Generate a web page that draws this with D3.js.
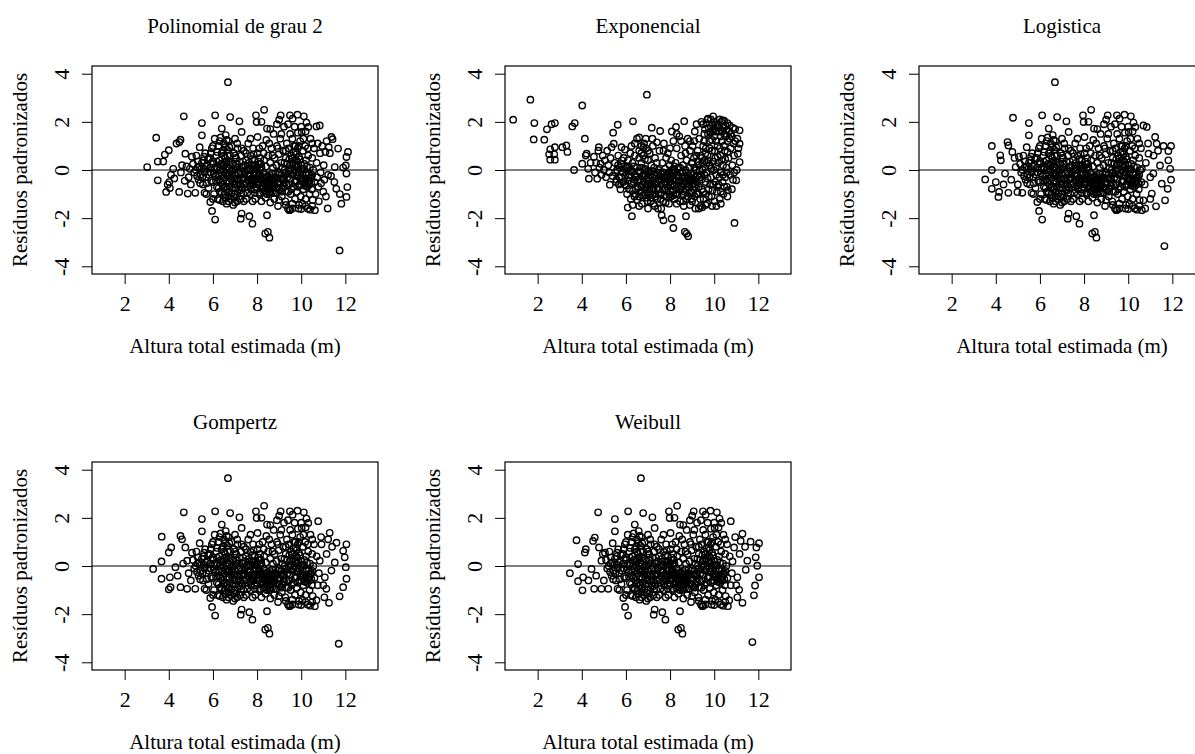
<!DOCTYPE html>
<html lang="pt">
<head>
    <meta charset="UTF-8">
    <title>Resíduos padronizados</title>
    <script src="https://d3js.org/d3.v7.min.js"></script>
    <style>
        body { margin: 0; background: #fff; overflow: hidden; }
        svg { display: block; }
        svg text { font-family: "Liberation Serif", "Times New Roman", Times, serif; }
    </style>
</head>
<body>
<script>
    // Valores (altura estimada em m, resíduo padronizado)

    // nuvem central, praticamente igual nos modelos polinomial, logístico, Gompertz e Weibull
    const nucleoComum = [
        [5.0,-0.6],[5.05,0.55],[5.1,0.25],[5.15,-0.1],[5.2,-0.95],[5.25,0.6],[5.3,0.1],[5.35,-0.4],
        [5.4,0.95],[5.45,-0.2],[5.5,1.95],[5.5,1.44],[5.5,0.3],[5.55,-0.6],[5.6,0.05],[5.62,-0.95],[5.65,0.7],
        [5.7,-0.3],[5.75,0.2],[5.8,-0.75],[5.85,0.5],[5.88,-1.33],[5.9,-0.1],[5.96,-1.7],[5.95,0.9],[6.0,-0.5],
        [6.02,0.25],[6.05,-1.0],[6.08,1.3],[6.1,-2.06],[6.1,2.27],[6.12,-0.25],[6.15,0.6],[6.18,-0.7],[6.2,0.1],
        [6.22,-1.2],[6.25,1.0],[6.28,-0.4],[6.3,0.4],[6.32,-0.9],[6.35,1.35],[6.38,-0.1],[6.4,1.72],[6.4,0.7],
        [6.42,-0.6],[6.45,-1.3],[6.48,0.2],[6.5,1.1],[6.5,-0.3],[6.52,-1.0],[6.55,0.5],[6.58,1.45],[6.6,-0.7],
        [6.6,0.0],[6.62,-1.4],[6.65,0.85],[6.68,-0.2],[6.68,3.65],[6.7,1.2],[6.7,-0.9],[6.72,0.35],[6.75,-0.5],
        [6.78,2.2],[6.78,0.6],[6.8,-1.2],[6.82,-0.05],[6.85,1.0],[6.88,-0.75],[6.9,0.25],[6.92,-1.45],[6.95,0.7],
        [6.98,-0.35],[7.0,1.3],[7.0,-1.0],[7.02,0.05],[7.05,0.5],[7.08,-0.6],[7.1,-1.3],[7.12,0.9],[7.15,-0.15],
        [7.2,2.02],[7.2,0.35],[7.22,-0.85],[7.25,-1.2],[7.28,0.6],[7.3,1.58],[7.3,-1.81],[7.26,-2.02],[7.32,-0.4],
        [7.35,0.1],[7.38,-1.0],[7.4,0.8],[7.42,-0.6],[7.45,-0.1],[7.5,0.4],[7.5,-1.2],
        [7.55,-0.7],[7.6,1.1],[7.6,0.0],[7.65,-1.92],[7.65,-0.4],[7.7,0.6],[7.72,-1.0],[7.75,0.2],[7.79,-2.23],
        [7.8,-0.5],[7.82,0.9],[7.85,-0.15],[7.88,-0.8],[7.9,0.4],[7.92,-1.2],[7.95,2.27],[7.95,0.05],[7.98,1.99],
        [8.0,-0.35],[8.02,1.37],[8.02,0.7],[8.05,-0.6],[8.08,0.25],[8.1,-1.0],[8.12,-0.2],[8.15,0.5],[8.18,-0.75],
        [8.2,0.1],[8.22,-0.45],[8.25,1.0],[8.28,-0.9],[8.3,-0.1],[8.32,2.5],[8.32,0.4],[8.35,-0.6],[8.37,-2.64],
        [8.38,-1.15],[8.4,0.15],[8.42,1.25],[8.45,1.72],[8.45,-1.88],[8.45,-0.3],[8.48,-0.8],[8.49,-2.57],[8.5,0.6],
        [8.52,-0.5],[8.55,-1.0],[8.56,-2.81],[8.58,-0.2],[8.6,0.3],[8.62,-0.65],[8.65,0.9],[8.68,-0.9],[8.7,-0.4],
        [8.72,0.1],[8.75,1.5],[8.75,-0.7],[8.78,-1.2],[8.8,0.5],[8.82,-0.3],[8.85,-0.95],[8.88,0.2],[8.9,1.0],
        [8.92,-0.55],[8.95,-1.5],[8.98,0.65],[9.0,2.09],[9.0,-0.1],[9.02,-0.8],[9.05,1.3],[9.07,2.27],[9.1,0.3],
        [9.12,-1.1],[9.15,-0.4],[9.18,0.8],[9.2,-0.65],
        [9.22,1.8],[9.25,0.0],[9.28,-1.3],[9.3,0.5],[9.32,-0.9],[9.35,1.1],[9.38,-0.3],[9.4,-1.6],[9.42,0.9],
        [9.45,-0.6],[9.46,-1.67],[9.48,0.2],[9.49,2.27],[9.5,1.5],[9.52,-1.0],[9.55,0.6],[9.58,-0.2],[9.6,-1.4],
        [9.61,2.13],[9.62,0.3],[9.65,-0.7],[9.68,1.0],[9.7,0.0],[9.72,-1.2],[9.75,0.75],[9.75,-0.45],[9.78,0.4],
        [9.8,-0.9],[9.82,0.1],[9.83,2.3],[9.85,1.55],[9.85,-0.25],[9.88,-1.6],[9.9,0.55],[9.92,-0.6],[9.95,1.2],
        [9.98,-1.1],[10.0,0.2],[10.02,1.58],[10.02,-0.4],[10.05,-1.4],[10.08,0.8],[10.1,-0.8],[10.12,2.23],
        [10.12,0.05],[10.15,-0.5],[10.18,1.0],[10.2,-1.2],[10.22,0.4],[10.24,1.97],[10.25,-0.2],[10.28,-0.7],
        [10.3,-1.6],[10.32,1.79],[10.32,0.6],[10.35,-0.45],[10.38,-1.0],[10.4,-1.65],[10.4,0.1],[10.42,1.3],
        [10.45,-0.3],[10.48,-0.8],[10.5,0.5],[10.52,-1.25],[10.55,0.0],[10.58,0.9],[10.6,-0.5],[10.62,-1.67],
        // parte mais densa
        [5.22,0.0],[5.28,-0.25],[5.32,0.35],[5.38,0.15],[5.42,-0.55],[5.48,0.05],[5.52,-0.3],[5.58,0.4],
        [5.62,-0.1],[5.68,0.15],[5.72,-0.55],[5.78,0.45],[5.82,-0.2],[5.88,0.1],[5.92,-0.45],[5.98,0.35],
        [6.04,-0.15],[6.08,0.05],[6.14,-0.45],[6.18,0.35],
        [6.24,-0.2],[6.26,-0.75],[6.3,0.0],[6.34,-0.5],[6.36,0.25],[6.4,-0.95],[6.44,0.05],[6.46,-0.45],
        [6.5,-0.75],[6.54,0.3],[6.56,-0.15],[6.58,-1.15],[6.62,-0.45],[6.64,0.15],[6.66,-0.8],[6.7,-0.25],
        [6.72,-1.1],[6.74,0.05],[6.76,-0.7],[6.8,-0.35],[6.82,0.3],[6.84,-0.95],[6.86,-0.2],[6.9,-0.5],
        [6.92,0.0],[6.94,-1.1],[6.96,-0.6],[7.0,-0.2],[7.02,-0.75],[7.04,0.25],[7.06,-1.15],[7.1,-0.35],
        [7.12,0.1],[7.16,-0.8],[7.18,-0.45],[7.22,-0.05],[7.24,-0.6],[7.28,-0.95],[7.3,-0.2],[7.34,-0.75],
        [7.36,0.35],[7.4,-0.35],[6.5,0.6],[6.55,0.95],[6.62,1.25],[6.66,0.6],[6.74,0.95],[6.6,0.35],[6.45,0.8],
        [7.62,-0.2],[7.68,-0.65],[7.72,0.0],[7.76,-0.35],[7.8,0.15],[7.84,-0.6],[7.88,0.05],[7.92,-0.4],
        [7.96,-0.15],[8.0,0.1],[8.04,-0.25],[8.08,-0.5],[8.12,0.05],[8.16,-0.3],
        [8.24,-0.7],[8.28,-0.3],[8.3,-0.5],[8.34,-0.85],[8.36,-0.2],[8.4,-0.7],[8.42,-0.45],[8.44,-1.0],
        [8.46,-0.6],[8.5,-0.25],[8.52,-0.8],[8.54,-0.4],[8.58,-0.65],[8.6,-0.9],[8.62,-0.35],[8.66,-0.55],
        [8.68,-0.15],[8.7,-0.75],[8.74,-0.5],[8.76,-0.95],[8.8,-0.6],[8.84,-0.15],[8.86,-0.7],[8.9,-0.35],
        [8.94,-0.75],[8.96,-0.2],[9.0,-0.5],[9.04,-0.35],[9.08,-0.9],
        [9.44,0.0],[9.5,-0.35],[9.54,0.25],[9.56,-0.8],[9.6,0.5],[9.64,-0.15],[9.66,0.75],[9.7,-0.5],
        [9.72,0.2],[9.74,1.0],[9.76,-0.1],[9.78,0.65],[9.8,-0.45],[9.82,0.35],[9.84,0.9],[9.86,-0.7],
        [9.88,0.2],[9.9,-0.1],[9.94,0.45],[9.96,-0.35],[10.0,-0.6],[10.04,0.05],[10.06,-0.2],[10.1,-0.45],
        [10.14,0.25],[10.16,-0.65],[10.2,-0.1],[10.24,-0.4],[10.26,0.15],[10.3,-0.55],[10.34,-0.2],
        [10.38,-0.6],[10.42,-0.35],[10.46,-0.55],[10.5,-0.2],
        [7.42,-0.3],[7.46,0.2],[7.5,-0.55],[7.54,0.05],[7.56,-0.95],[7.6,-0.4],[7.64,0.3],[7.7,-0.25],
        [7.74,-0.8],[7.78,0.45],[7.86,-0.45],[7.9,-0.95],[7.94,0.2],[8.0,-0.75],[8.06,0.35],[8.1,-0.4],
        [8.14,-0.95],[8.18,0.25],
        [9.1,-0.2],[9.14,0.1],[9.16,-0.75],[9.2,-0.35],[9.24,0.3],[9.26,-0.55],[9.3,-0.1],[9.34,-0.6],
        [9.36,0.25],[9.4,-0.15],[9.42,-0.9],[9.46,0.45],
        [5.6,0.55],[5.9,0.7],[6.0,1.0],[6.2,0.75],[6.3,1.2],[7.0,0.6],[7.1,1.1],[7.3,0.9],[7.5,0.7],[7.7,1.3],
        [7.85,0.65],[8.1,0.9],[8.3,0.7],[8.55,1.1],[8.7,0.6],[8.95,0.9],[9.1,1.5],[9.3,0.8],[9.6,1.3],[9.9,1.0],
        [10.1,1.3],[10.3,0.9],[10.5,1.1],[9.4,1.9],[9.7,1.8],[10.0,1.8],[10.2,1.6],[8.9,1.9],[8.6,1.7],[8.2,2.0],
        [5.7,-1.0],[6.0,-1.2],[6.3,-1.25],[6.7,-1.3],[7.0,-1.35],[7.4,-1.3],[7.8,-1.3],[8.2,-1.3],[8.6,-1.35],
        [9.0,-1.25],[9.3,-1.45],[9.6,-1.6],[9.9,-1.45],[10.2,-1.5],[10.5,-1.5],[9.5,-1.65],[10.0,-1.62]
    ];

    // pontos das bordas da nuvem, próprios de cada modelo
    const bordasPolinomial = [
        [3.02,0.12],[3.43,1.34],[3.5,0.35],[3.5,-0.43],[3.75,0.35],[3.82,0.64],[3.88,-0.91],[3.95,-0.6],
        [4.0,0.82],[4.02,-0.5],[4.05,-0.75],[4.1,-0.2],[4.2,0.05],[4.25,-0.35],[4.35,1.1],[4.48,1.16],[4.53,1.26],
        [4.47,-0.91],[4.55,-0.1],[4.6,0.2],[4.68,2.23],[4.72,-0.45],[4.75,0.68],[4.8,0.15],[4.86,-0.98],[4.9,-0.3],
        [4.95,0.05],
        [10.65,-1.0],[10.69,1.81],[10.7,0.3],[10.72,-0.3],[10.75,1.1],[10.78,-0.7],[10.8,-1.3],[10.84,1.85],
        [10.85,0.7],[10.88,-0.1],[10.9,-0.55],[10.95,1.0],[11.0,-0.9],[11.02,0.2],[11.05,-0.4],[11.1,0.75],
        [11.12,-1.1],[11.15,1.2],[11.2,-1.6],[11.22,-0.2],[11.25,0.95],[11.3,0.7],[11.35,-0.25],[11.37,1.37],
        [11.42,1.28],[11.5,-0.5],[11.52,0.12],[11.59,-0.78],[11.67,0.89],[11.74,-3.34],[11.82,-1.4],[12.02,0.19],
        [12.05,0.54],[12.05,-0.15],[12.05,-1.12],[12.09,-0.71],[12.12,0.75],[11.9,0.1],[11.75,-1.0]
    ];

    const bordasLogistica = [
        [3.52,-0.39],[3.82,1.0],[3.82,0.0],[3.82,-0.78],[4.0,-0.5],[4.12,-1.12],[4.15,-0.91],[4.2,0.61],
        [4.23,0.4],[4.42,-0.15],[4.53,1.16],[4.57,1.02],[4.57,-0.95],[4.78,2.17],[4.75,0.75],[4.9,0.12],
        [4.98,-0.91],[4.7,-0.4],[4.35,-0.6],[4.85,0.5],
        [10.62,0.05],[10.47,-0.57],[10.69,-1.26],[10.77,-1.6],[10.69,1.85],[10.84,1.79],[10.92,0.68],[11.07,-0.98],
        [11.14,-0.15],[11.22,1.37],[11.29,1.09],[11.44,0.19],[11.52,-0.57],[11.26,-1.51],[11.64,-3.16],
        [11.67,-1.26],[11.79,-0.78],[11.94,-0.4],[11.9,0.05],[11.82,0.4],[11.82,0.79],[11.94,1.0],[10.8,0.3],
        [11.0,-0.3],[10.9,1.1],[11.35,0.8],[11.15,0.6],[10.75,-0.6],[11.0,-1.2],[11.6,1.0]
    ];

    const bordasGompertz = [
        [3.29,-0.12],[3.68,1.22],[3.67,0.19],[3.67,-0.53],[4.0,0.56],[4.11,0.77],[4.05,-0.47],[4.08,-0.88],
        [4.0,-0.97],[4.3,-0.05],[4.53,1.25],[4.6,1.11],[4.68,2.23],[4.75,0.77],[4.53,-0.88],[4.83,-0.95],
        [4.83,0.22],[4.4,-0.4],[4.65,0.1],[4.9,-0.3],
        [10.69,-1.42],[10.84,0.22],[10.77,1.86],[10.92,0.9],[11.07,-0.47],[11.14,-0.95],[11.37,-0.19],
        [11.52,0.15],[11.6,0.97],[11.22,1.11],[11.29,1.38],[11.26,-1.53],[11.7,-3.23],[11.74,-1.26],
        [11.9,-0.88],[12.05,-0.53],[12.02,-0.05],[11.97,0.36],[11.9,0.63],[12.05,0.9],[10.7,0.4],[10.8,-0.3],
        [10.9,1.2],[11.0,-0.8],[11.15,0.5],[10.75,-0.8],[11.4,0.8],[11.05,-1.3]
    ];

    const bordasWeibull = [
        [3.46,-0.3],[3.76,1.07],[3.83,0.08],[3.83,-0.63],[4.03,-1.01],[4.14,0.56],[4.18,0.7],[4.06,-0.47],
        [4.44,-0.12],[4.51,1.04],[4.59,1.18],[4.74,2.23],[4.78,0.77],[4.56,-0.95],[4.89,-0.95],[4.89,0.22],
        [4.3,-0.6],[4.65,-0.4],[4.95,0.5],
        [10.68,-1.42],[10.83,0.19],[10.75,1.86],[10.9,0.77],[11.05,-0.47],[11.13,-0.99],[11.43,-0.16],
        [11.5,0.22],[11.65,1.01],[11.2,1.04],[11.28,1.34],[11.28,-1.53],[11.73,-3.16],[11.8,-1.22],[11.85,-0.81],
        [12.03,-0.47],[11.95,0.01],[11.88,0.36],[11.91,0.77],[12.03,0.95],[10.7,0.4],[10.8,-0.3],[10.95,1.2],
        [11.0,-0.8],[11.15,0.5],[10.75,-0.8],[11.4,0.8],[11.05,-1.3]
    ];

    const exponencial = [
        [0.89,2.09],[1.67,2.92],[1.85,1.95],[1.82,1.27],[2.3,1.26],[2.42,1.69],[2.63,1.9],[2.78,1.95],
        [2.57,0.86],[2.52,0.65],[2.57,0.43],[2.78,0.43],[2.75,0.65],[2.78,0.95],[3.12,0.95],[3.3,1.02],
        [3.35,0.75],[3.57,1.81],[3.68,1.95],[3.65,0.0],[4.02,2.68],[4.14,1.3],[4.02,0.26],[4.22,0.68],
        [4.18,0.6],[4.32,-0.36],[4.29,0.05],[4.4,0.3],[4.7,-0.36],[4.77,0.95],[4.85,0.26],
        [4.55,0.55],[4.6,-0.1],[4.65,0.3],[4.75,0.8],[4.8,0.1],[4.9,-0.2],[4.95,0.6],[5.0,0.0],[5.05,0.4],
        [5.1,-0.3],[5.15,0.8],[5.2,0.2],[5.25,-0.1],[5.27,-0.61],[5.3,0.5],[5.35,0.95],[5.4,-0.25],[5.42,1.55],
        [5.45,1.09],[5.5,0.3],[5.55,-0.5],[5.6,0.0],[5.63,1.88],[5.65,0.6],[5.7,-0.3],[5.75,-0.8],[5.8,0.25],
        [5.85,-0.1],[5.9,0.5],[5.95,-0.6],[6.0,0.1],
        [6.05,-1.0],[6.08,-1.56],[6.1,0.4],[6.12,-0.3],[6.15,-0.8],[6.2,0.0],[6.22,-1.2],[6.25,1.0],[6.27,-1.92],
        [6.3,0.3],[6.32,2.02],[6.35,-0.5],[6.38,-1.1],[6.4,0.6],[6.42,-0.2],[6.45,-0.8],[6.5,1.3],[6.5,0.1],
        [6.52,-1.25],[6.55,-0.45],[6.6,0.8],[6.62,-0.1],[6.65,-0.9],[6.7,1.0],[6.7,0.3],[6.72,-1.4],[6.75,-0.6],
        [6.78,0.6],[6.8,-0.2],[6.82,1.1],[6.85,-1.0],[6.88,0.05],[6.9,-0.7],[6.92,0.9],[6.95,3.13],[6.95,-0.35],
        [6.98,-1.3],[7.0,0.4],[7.02,-0.9],[7.05,-0.1],[7.08,0.7],[7.1,-0.55],[7.12,-1.15],[7.15,0.2],[7.17,1.76],
        [7.18,-0.8],[7.2,-0.3],[7.22,1.0],[7.25,-1.4],[7.28,0.1],[7.3,-0.6],[7.32,0.5],[7.35,-1.1],[7.38,-0.2],
        [7.4,0.3],[7.42,-0.75],[7.45,-1.6],[7.48,0.0],[7.5,-0.4],
        [7.52,0.8],[7.55,1.62],[7.55,-1.0],[7.58,-0.1],[7.6,-0.6],[7.62,-1.88],[7.65,0.3],[7.68,-1.3],[7.7,-2.09],
        [7.7,-0.3],[7.72,1.1],[7.75,-0.8],[7.78,0.05],[7.8,-0.5],[7.82,0.5],[7.85,-1.1],[7.88,-0.2],[7.9,0.7],
        [7.92,-0.7],[7.95,-1.4],[7.98,0.2],[8.0,-0.3],[8.02,-0.9],[8.05,0.4],[8.07,-2.02],[8.08,1.6],[8.1,-0.1],
        [8.12,-0.6],[8.15,-2.41],[8.15,1.2],[8.18,0.0],[8.2,-1.2],[8.22,-0.4],[8.25,0.3],[8.27,1.79],[8.28,-0.8],
        [8.3,0.9],[8.32,-0.2],[8.35,-1.0],[8.38,0.1],[8.4,-0.5],[8.42,1.4],[8.45,-1.3],[8.48,-0.1],[8.5,0.6],
        [8.52,-0.7],[8.55,-0.3],[8.58,0.2],[8.6,-1.0],[8.62,-1.5],[8.64,2.03],[8.65,-0.5],[8.67,-2.57],[8.68,1.0],
        [8.7,0.0],[8.72,-1.92],[8.72,-0.8],[8.75,-2.64],[8.75,0.4],[8.78,-0.3],[8.8,1.3],[8.82,-2.75],[8.82,-1.1],
        [8.85,-0.6],[8.88,0.1],[8.9,0.8],[8.92,-0.4],[8.95,-0.9],[8.98,0.3],
        [9.0,-1.3],[9.02,1.0],[9.05,-0.2],[9.08,0.5],[9.1,-0.7],[9.12,1.6],[9.15,-1.6],[9.18,0.0],[9.2,1.9],
        [9.22,-0.5],[9.25,0.8],[9.28,-1.0],[9.3,0.2],[9.32,1.3],[9.35,-0.3],[9.38,-1.5],[9.4,0.6],[9.42,2.0],
        [9.45,-0.8],[9.48,0.0],[9.5,1.0],[9.52,-1.2],[9.55,0.4],[9.58,1.7],[9.6,-0.5],[9.62,0.9],[9.65,-0.1],
        [9.68,-1.4],[9.7,2.1],[9.7,0.6],[9.72,2.13],[9.75,-0.8],[9.78,1.2],[9.8,0.2],[9.82,1.55],[9.85,-0.3],
        [9.88,-1.1],[9.9,0.8],[9.92,1.6],[9.95,2.23],[9.95,-0.6],[9.98,0.0],[10.0,1.4],[10.02,-1.3],[10.05,0.5],
        [10.08,1.9],[10.1,-0.2],[10.12,-0.9],[10.15,1.0],[10.18,0.3],[10.2,-0.6],[10.22,1.6],[10.25,-1.2],
        [10.28,0.6],[10.3,-0.1],[10.32,2.0],[10.35,1.2],[10.37,2.06],[10.38,-0.5],[10.4,0.2],[10.42,-1.0],
        [10.45,1.5],[10.48,0.8],[10.5,-0.3],[10.52,1.85],[10.55,0.1],[10.58,-0.7],[10.6,1.2],[10.62,-0.84],
        [10.65,0.5],[10.68,1.6],[10.7,1.85],[10.72,-0.2],[10.75,0.9],[10.8,1.4],[10.82,0.2],[10.85,-0.4],
        [10.88,1.1],[10.9,0.6],[10.92,-2.2],[10.95,1.7],[11.0,-0.43],[11.02,0.0],[11.05,1.3],[11.07,0.68],
        [11.1,0.9],[11.15,1.65],[11.15,1.09],[11.15,0.33],
        // parte mais densa
        [5.52,-0.1],[5.58,-0.4],[5.64,0.2],[5.68,-0.6],[5.72,0.1],[5.78,-0.3],[5.82,0.4],[5.88,-0.5],
        [5.92,0.05],[5.98,-0.25],[6.02,-0.65],[6.06,0.15],[6.1,-0.45],[6.14,0.1],[6.18,-0.2],[6.24,-0.55],
        [6.28,-0.05],[6.32,-0.85],[6.36,0.15],[6.4,-0.4],
        [6.44,-1.0],[6.48,-0.3],[6.54,-0.75],[6.58,-0.05],[6.6,-1.1],[6.64,-0.4],[6.68,0.1],[6.7,-0.7],
        [6.74,-0.25],[6.78,-1.05],[6.8,-0.5],[6.84,0.0],[6.86,-0.8],[6.9,-0.25],[6.92,-1.15],[6.96,-0.6],
        [7.0,-0.05],[7.0,-1.0],[7.04,-0.45],[7.06,-0.8],[7.1,-0.2],[7.12,-1.3],[7.14,-0.6],[7.18,-0.05],
        [7.2,-1.0],[7.24,-0.45],[7.26,-0.8],[7.3,-0.25],[7.34,-1.0],[7.36,-0.55],[7.4,-0.1],[7.42,-1.2],
        [7.46,-0.5],[7.5,-0.8],[7.54,-0.25],[7.58,-1.2],[7.62,-0.4],[7.66,-0.8],[7.7,-0.1],[7.74,-1.05],
        [7.78,-0.55],[7.82,-0.25],[7.86,-0.85],[7.9,-0.4],[7.94,-0.1],[7.96,-1.0],[6.7,0.7],[6.8,0.95],
        [6.86,0.45],[6.6,0.5],[7.0,0.8],
        [8.02,-0.6],[8.06,-0.2],[8.1,-0.85],[8.14,-0.35],[8.2,-0.65],[8.24,-0.1],[8.26,-1.0],[8.3,-0.45],
        [8.34,0.05],[8.36,-0.7],[8.4,-0.25],[8.44,-0.8],[8.46,0.1],[8.5,-0.45],[8.54,-1.05],[8.56,-0.1],
        [8.6,-0.6],[8.64,-0.3],[8.66,-0.9],[8.7,-0.45],[8.74,-0.1],[8.76,-1.2],[8.8,-0.7],[8.84,-0.2],
        [8.86,-0.95],[8.9,-0.5],[8.94,-0.15],[8.96,-1.2],[9.0,-0.6],[9.04,-0.95],[9.08,-0.4],[9.12,-1.1],
        [9.16,-0.6],
        [9.42,-0.4],[9.46,0.3],[9.5,-0.9],[9.54,1.2],[9.56,-0.2],[9.6,0.7],[9.62,-1.0],[9.66,0.3],[9.7,-0.35],
        [9.72,1.5],[9.74,0.4],[9.76,-1.1],[9.8,0.9],[9.82,-0.6],[9.84,1.6],[9.86,0.05],[9.9,1.25],[9.92,-0.85],
        [9.96,0.35],[9.98,1.7],[10.02,0.8],[10.04,-0.5],[10.08,0.15],[10.1,1.2],[10.14,-0.7],[10.16,0.55],
        [10.2,1.75],[10.24,-0.3],[10.26,0.9],[10.3,-0.9],[10.34,0.4],[10.36,1.6],[10.4,-0.2],[10.44,1.0],
        [10.46,-0.7],[10.5,0.45],[10.54,1.4],[10.56,-0.1],[10.6,0.75],
        [7.98,-0.5],[8.04,-1.1],[8.08,0.0],[8.12,-0.4],[8.16,-1.05],[8.2,0.15],
        [9.02,0.3],[9.06,-0.55],[9.1,0.1],[9.14,-0.3],[9.18,0.6],[9.2,-1.0],[9.24,-0.25],[9.26,0.35],[9.3,-0.7],
        [9.34,0.0],[9.36,-1.2],[9.4,-0.2],[9.44,0.5],[9.46,-1.55],
        [9.5,1.9],[9.55,1.5],[9.65,1.95],[9.75,1.75],[9.85,2.1],[9.9,1.9],[10.0,2.0],[10.05,1.6],[10.15,1.85],
        [10.25,2.1],[10.3,1.4],[10.4,1.75],[10.45,2.05],[10.55,1.65],[10.6,1.95],[10.7,1.3],[10.75,1.5],
        [10.85,1.75],[10.95,1.2],[10.9,-0.1],[10.8,-0.8],[10.6,-1.1],[10.3,-1.4],[10.1,-1.5],[9.9,-1.5],
        [9.6,-1.45],[9.3,-1.6],
        [6.6,1.35],[6.9,1.3],[7.2,1.3],[7.4,1.15],[7.7,0.8],[8.0,0.9],[8.3,1.5],[8.5,1.2],[8.7,0.7],[8.9,1.2],
        [9.1,1.2],[6.4,1.1],[6.2,0.7],[5.95,0.85],[5.8,0.95],
        [6.3,-1.45],[6.6,-1.5],[7.0,-1.6],[7.3,-1.5],[7.6,-1.6],[7.8,-1.35],[8.3,-1.4],[8.6,-1.3],[8.9,-1.45]
    ];

    const titulos = ["Polinomial de grau 2", "Exponencial", "Logistica", "Gompertz", "Weibull"];
    const ticksX = [2, 4, 6, 8, 10, 12];
    const ticksY = [-4, -2, 0, 2, 4];
    const rotuloX = "Altura total estimada (m)";
    const rotuloY = "Resíduos padronizados";

    const paineis = [
        {titulo: titulos[0], pontos: nucleoComum.concat(bordasPolinomial)},
        {titulo: titulos[1], pontos: exponencial},
        {titulo: titulos[2], pontos: nucleoComum.concat(bordasLogistica)},
        {titulo: titulos[3], pontos: nucleoComum.concat(bordasGompertz)},
        {titulo: titulos[4], pontos: nucleoComum.concat(bordasWeibull)}
    ];

    const fonte = '"Liberation Serif", "Times New Roman", Times, serif';
    const colunas = [92, 505, 919];
    const linhas = [66, 462];
    const larg = 286, alt = 208;

    const svg = d3.select("body").append("svg")
        .attr("width", 1195)
        .attr("height", 754);

    paineis.forEach((p, i) => {
        const left = colunas[i % 3];
        const top = linhas[Math.floor(i / 3)];

        // xlim = c(1, 13), ylim = c(-4, 4) com a folga de 4% do R
        const x = d3.scaleLinear().domain([0.52, 13.48]).range([left, left + larg]);
        const y = d3.scaleLinear().domain([-4.32, 4.32]).range([top + alt, top]);

        const g = svg.append("g").attr("font-family", fonte);

        g.append("text")
            .attr("x", left + larg / 2)
            .attr("y", top - 33)
            .attr("text-anchor", "middle")
            .style("font-size", "21px")
            .text(p.titulo);

        // eixo x
        const ax = g.append("g")
            .attr("transform", `translate(0,${top + alt})`)
            .call(d3.axisBottom(x).tickValues(ticksX).tickSize(10).tickFormat(d => String(d)));
        ax.attr("font-family", fonte).attr("font-size", 22);
        ax.select(".domain").remove();
        ax.selectAll("line").attr("stroke", "#000");
        ax.selectAll("text")
            .attr("y", 37).attr("dy", null)
            .attr("fill", "#000");

        // eixo y, rótulos paralelos ao eixo (hífen simples no sinal negativo)
        const ay = g.append("g")
            .attr("transform", `translate(${left},0)`)
            .call(d3.axisLeft(y).tickValues(ticksY).tickSize(10).tickFormat(d => String(d)));
        ay.attr("font-family", fonte).attr("font-size", 22);
        ay.select(".domain").remove();
        ay.selectAll("line").attr("stroke", "#000");
        ay.selectAll("text")
            .attr("x", null).attr("dy", null)
            .attr("transform", "translate(-23,0) rotate(-90)")
            .attr("text-anchor", "middle")
            .attr("fill", "#000");

        g.append("text")
            .attr("x", left + larg / 2)
            .attr("y", top + alt + 79)
            .attr("text-anchor", "middle")
            .style("font-size", "21px")
            .text(rotuloX);

        g.append("text")
            .attr("transform", `translate(${left - 65},${top + alt / 2}) rotate(-90)`)
            .attr("text-anchor", "middle")
            .style("font-size", "21px")
            .text(rotuloY);

        // linha de referência em zero
        g.append("line")
            .attr("x1", left).attr("x2", left + larg)
            .attr("y1", y(0)).attr("y2", y(0))
            .attr("stroke", "#000");

        g.selectAll("circle")
            .data(p.pontos)
            .enter().append("circle")
            .attr("cx", d => x(d[0]))
            .attr("cy", d => y(d[1]))
            .attr("r", 3.2)
            .attr("fill", "none")
            .attr("stroke", "#000")
            .attr("stroke-width", 1.4);

        g.append("rect")
            .attr("x", left).attr("y", top)
            .attr("width", larg).attr("height", alt)
            .attr("fill", "none")
            .attr("stroke", "#000")
            .attr("stroke-width", 1.2);
    });
</script>
</body>
</html>
